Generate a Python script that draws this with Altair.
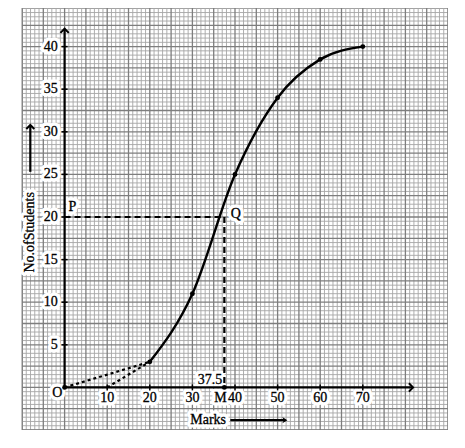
import altair as alt
import pandas as pd
import numpy as np

# ---- data ----
upper_marks = [20, 30, 40, 50, 60, 70]
cum_students = [3, 11, 25, 34, 38.5, 40]
dotted_starts = [0, 10]
x_ticks = [10, 20, 30, 40, 50, 60, 70]
y_ticks = [5, 10, 15, 20, 25, 30, 35, 40]
median_n = 20
median_mark = 37.5

# axis extents (data units)
y_axis_top = 42.1
x_axis_end = 81.8

X_DOM = [-10, 90]
Y_DOM = [-5, 44.53]
FONT = "Liberation Serif"


def X(f="x"):
    return alt.X(f"{f}:Q", scale=alt.Scale(domain=X_DOM, nice=False, zero=False), axis=None)


def Y(f="y"):
    return alt.Y(f"{f}:Q", scale=alt.Scale(domain=Y_DOM, nice=False, zero=False), axis=None)


# ---- graph paper ----
gx = np.arange(-10, 91, 1)
gy = np.arange(-5, 44.51, 0.5)
fine_x = pd.DataFrame({"x": [v for v in gx if v % 5 != 0]})
major_x = pd.DataFrame({"x": [v for v in gx if v % 5 == 0]})
fine_y = pd.DataFrame({"y": [v for v in gy if abs(v / 2.5 - round(v / 2.5)) > 1e-9]})
major_y = pd.DataFrame({"y": [v for v in gy if abs(v / 2.5 - round(v / 2.5)) < 1e-9]})

fine_c = "#a6a6a6"
major_c = "#7e7e7e"
grid = [
    alt.Chart(fine_x).mark_rule(color=fine_c, strokeWidth=0.9, clip=True).encode(x=X()),
    alt.Chart(fine_y).mark_rule(color=fine_c, strokeWidth=0.9, clip=True).encode(y=Y()),
    alt.Chart(major_x).mark_rule(color=major_c, strokeWidth=1.3, clip=True).encode(x=X()),
    alt.Chart(major_y).mark_rule(color=major_c, strokeWidth=1.3, clip=True).encode(y=Y()),
]

# ---- axes ----
axes_df = pd.DataFrame({"x": [0, 0], "y": [0, 0], "x2": [0, x_axis_end], "y2": [y_axis_top, 0]})
axes = alt.Chart(axes_df).mark_rule(color="black", strokeWidth=2.2).encode(
    x=X(), y=Y(), x2="x2:Q", y2="y2:Q")

up_arrow = "M-1,1L0,0L1,1"
right_arrow = "M-1,-1L0,0L-1,1"
arrow_up = alt.Chart(pd.DataFrame({"x": [0], "y": [y_axis_top]})).mark_point(
    shape=up_arrow, size=70, filled=False, color="black", strokeWidth=2, opacity=1).encode(x=X(), y=Y())
arrow_right = alt.Chart(pd.DataFrame({"x": [x_axis_end], "y": [0]})).mark_point(
    shape=right_arrow, size=70, filled=False, color="black", strokeWidth=2, opacity=1).encode(x=X(), y=Y())

ytick_marks = alt.Chart(pd.DataFrame({"x": [0] * len(y_ticks), "y": y_ticks})).mark_point(
    shape="stroke", size=36, color="black", strokeWidth=1.5, opacity=1).encode(x=X(), y=Y())
xtick_marks = alt.Chart(pd.DataFrame({"x": x_ticks, "y": [0] * len(x_ticks)})).mark_point(
    shape="stroke", size=36, angle=90, color="black", strokeWidth=1.5, opacity=1).encode(x=X(), y=Y())


# ---- text helpers ----
halos = []
texts = []


def label(df, align="center", baseline="middle", size=14, angle=0, dx=0):
    base = alt.Chart(df)
    kw = dict(align=align, baseline=baseline, font=FONT, fontSize=size, dx=dx)
    if angle:
        kw["angle"] = angle
    halos.append(base.mark_text(color="white", stroke="white", strokeWidth=7, strokeJoin="round", **kw).encode(
        x=X(), y=Y(), text="t:N"))
    texts.append(base.mark_text(color="black", stroke="black", strokeWidth=0.3, **kw).encode(
        x=X(), y=Y(), text="t:N"))


label(pd.DataFrame({"x": [-1.6] * len(y_ticks), "y": y_ticks,
                    "t": [str(v) for v in y_ticks]}), align="right")
label(pd.DataFrame({"x": x_ticks, "y": [-1.3] * len(x_ticks),
                    "t": [str(v) for v in x_ticks]}))
label(pd.DataFrame({"x": [-1.7], "y": [-0.7], "t": ["O"]}))
label(pd.DataFrame({"x": [median_mark], "y": [-1.3], "t": ["M"]}), dx=-4)
label(pd.DataFrame({"x": [37.0], "y": [0.9], "t": ["37.5"]}), align="right")
label(pd.DataFrame({"x": [1.8], "y": [21.2], "t": ["P"]}))
label(pd.DataFrame({"x": [40.2], "y": [20.4], "t": ["Q"]}))
label(pd.DataFrame({"x": [33.7], "y": [-3.85], "t": ["Marks"]}))
label(pd.DataFrame({"x": [-8.05], "y": [18.2], "t": ["No.ofStudents"]}), angle=270)

# title arrows
marks_arrow = alt.Chart(pd.DataFrame({"x": [38.9], "y": [-3.85], "x2": [51.8], "y2": [-3.85]})).mark_rule(
    color="black", strokeWidth=2.2).encode(x=X(), y=Y(), x2="x2:Q", y2="y2:Q")
marks_head = alt.Chart(pd.DataFrame({"x": [52.3], "y": [-3.85]})).mark_point(
    shape="M-1.6,-1L0,0L-1.6,1L-1.1,0Z", size=40, filled=True, color="black", opacity=1).encode(x=X(), y=Y())
stud_arrow = alt.Chart(pd.DataFrame({"x": [-8.05], "y": [25.3], "x2": [-8.05], "y2": [30.8]})).mark_rule(
    color="black", strokeWidth=2.2).encode(x=X(), y=Y(), x2="x2:Q", y2="y2:Q")
stud_head = alt.Chart(pd.DataFrame({"x": [-8.05], "y": [30.8]})).mark_point(
    shape=up_arrow, size=64, filled=False, color="black", strokeWidth=2, opacity=1).encode(x=X(), y=Y())

# ---- ogive ----
ogive_df = pd.DataFrame({"x": upper_marks, "y": cum_students})
curve = alt.Chart(ogive_df).mark_line(color="black", strokeWidth=2.4, interpolate="monotone").encode(
    x=X(), y=Y())
dots_df = pd.DataFrame({"x": upper_marks + [0, median_mark],
                        "y": cum_students + [0, 0]})
dots = alt.Chart(dots_df).mark_circle(color="black", size=24, opacity=1).encode(x=X(), y=Y())

dotted_df = pd.DataFrame({"x": dotted_starts, "y": [0] * len(dotted_starts),
                          "x2": [upper_marks[0]] * len(dotted_starts),
                          "y2": [cum_students[0]] * len(dotted_starts)})
dotted = alt.Chart(dotted_df).mark_rule(color="black", strokeWidth=2.2, strokeDash=[3, 3]).encode(
    x=X(), y=Y(), x2="x2:Q", y2="y2:Q")

dash_df = pd.DataFrame({"x": [0, median_mark], "y": [median_n, median_n],
                        "x2": [median_mark, median_mark], "y2": [median_n, 0]})
dashed = alt.Chart(dash_df).mark_rule(color="black", strokeWidth=2.2, strokeDash=[6, 4]).encode(
    x=X(), y=Y(), x2="x2:Q", y2="y2:Q")

layers = (grid + halos + [axes, arrow_up, arrow_right, ytick_marks, xtick_marks, dotted, dashed, curve, dots,
                          marks_arrow, marks_head, stud_arrow, stud_head] + texts)

chart = alt.layer(*layers).properties(
    width=426, height=422,
    padding={"left": 14, "top": 0, "right": 0, "bottom": 0},
    background="white",
).configure_view(stroke="#7e7e7e", strokeWidth=1.3)

chart.save("out.html", embed_options={"renderer": "svg", "actions": False})
